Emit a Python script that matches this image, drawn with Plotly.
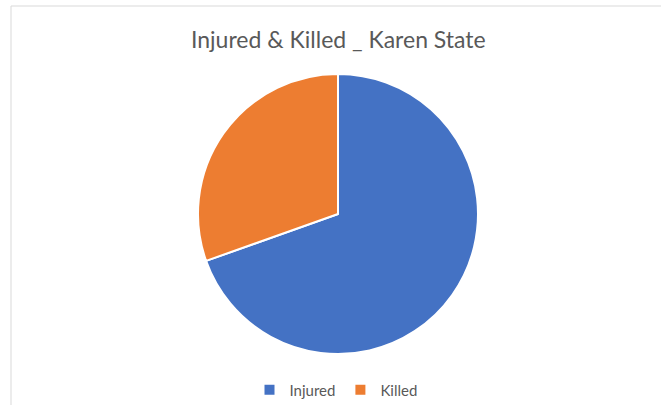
import plotly.graph_objects as go

labels = ["Injured", "Killed"]
values = [16, 7]
colors = ["#4472C4", "#ED7D31"]
title_text = "Injured & Killed _ Karen State"

W, H = 668, 405
L, R, T, B = 198, 190, 74, 51
pw, ph = W - L - R, H - T - B

def px(x):
    return (x - L) / pw

def py(y):
    return (H - B - y) / ph

fig = go.Figure(go.Pie(
    labels=labels, values=values,
    marker=dict(colors=colors, line=dict(color="white", width=2)),
    sort=False, direction="clockwise", rotation=0,
    textinfo="none", hoverinfo="label+value+percent",
))

fig.update_layout(
    width=W, height=H,
    margin=dict(l=L, r=R, t=T, b=B, autoexpand=False),
    paper_bgcolor="white", plot_bgcolor="white",
    showlegend=True,
    legend=dict(orientation="h", x=px(336), xanchor="center", y=py(390), yanchor="middle",
                font=dict(family="Lato, Carlito, Calibri, sans-serif", size=15, color="#595959"),
                itemwidth=30, tracegroupgap=0),
    annotations=[dict(text=title_text, x=px(338), y=py(39), xref="paper", yref="paper",
                      xanchor="center", yanchor="middle", showarrow=False,
                      font=dict(family="Lato, Carlito, Calibri, sans-serif", size=23, color="#595959"))],
    shapes=[
        dict(type="line", xref="paper", yref="paper", x0=px(11), x1=px(661), y0=py(6), y1=py(6),
             line=dict(color="#D9D9D9", width=1)),
        dict(type="line", xref="paper", yref="paper", x0=px(11), x1=px(11), y0=py(6), y1=py(405),
             line=dict(color="#D9D9D9", width=1)),
    ],
)

fig.write_html("out.html", config={"displayModeBar": False},
               post_script="document.body.style.margin='0';")
